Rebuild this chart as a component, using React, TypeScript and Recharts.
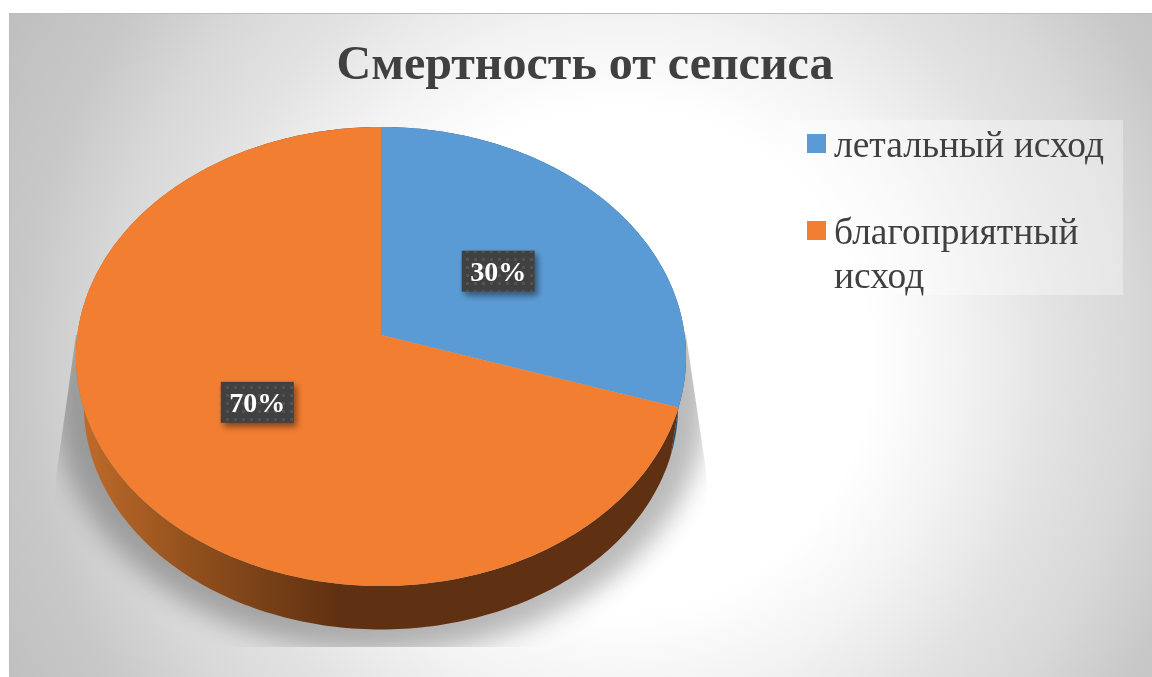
import React from "react";
import { PieChart, Pie, Cell, Legend } from "recharts";

const titleText = "Смертность от сепсиса";
const categories = ["летальный исход", "благоприятный исход"];
const values = [30, 70];
const colors = ["#5b9bd5", "#f27e31"];
const sideColors = ["#1f4e79", "url(#sideGrad)"];

const data = categories.map((name, i) => ({ name, value: values[i] }));

const SERIF = "'Liberation Serif', serif";
const W = 1152;
const H = 677;
const CX = 381;
const CY = 335;
// projective view of the pie disc
const C = -43 / 459;
const A = 227.5;
const K = 303.7;
const DROP = 50;
const SHRINK = 0.974;

const project = (deg: number, f = 1, bottom = false) => {
  const a = (deg * Math.PI) / 180;
  const x = f * Math.cos(a);
  const y = -f * Math.sin(a);
  const d = 1 + C * y;
  const s = bottom ? SHRINK : 1;
  return [CX + (s * K * x) / d, CY + (bottom ? DROP : 0) + (s * A * y) / d];
};

const arcPoints = (start: number, end: number, bottom = false) => {
  const n = Math.max(2, Math.ceil(Math.abs(end - start)));
  const pts: number[][] = [];
  for (let i = 0; i <= n; i++) pts.push(project(start + ((end - start) * i) / n, 1, bottom));
  return pts;
};

const toPath = (pts: number[][]) =>
  pts.map((p, i) => `${i ? "L" : "M"}${p[0].toFixed(2)} ${p[1].toFixed(2)}`).join(" ") + " Z";

const TopSlice = (props: any) => {
  const pts = [[CX, CY], ...arcPoints(props.startAngle, props.endAngle)];
  return <path d={toPath(pts)} fill={props.fill} />;
};

const SideSlice = (props: any) => {
  const top = arcPoints(props.startAngle, props.endAngle);
  const bot = arcPoints(props.startAngle, props.endAngle, true).reverse();
  return <path d={toPath([...top, ...bot])} fill={props.fill} />;
};

const renderLabel = (props: any) => {
  const [x, y] = project(props.midAngle, 0.49);
  const w = 73;
  const h = 41;
  return (
    <g>
      <rect x={x - w / 2} y={y - h / 2} width={w} height={h} fill="#404040" filter="url(#labelShadow)" />
      <rect x={x - w / 2} y={y - h / 2} width={w} height={h} fill="url(#dots)" />
      <text
        x={x}
        y={y + 9.5}
        textAnchor="middle"
        fontFamily={SERIF}
        fontWeight="bold"
        fontSize={28}
        fill="#fff"
      >
        {`${Math.round(props.percent * 100)}%`}
      </text>
    </g>
  );
};

const LegendBox = (props: any) => {
  const payload: any[] = props.payload || [];
  const items = categories.filter((name) => payload.some((p) => p.value === name));
  return (
    <div
      style={{
        position: "relative",
        width: 339,
        height: 175,
        background: "rgba(255,255,255,0.35)",
        fontFamily: SERIF,
        fontSize: 37.5,
        lineHeight: "44px",
        color: "#404040",
      }}
    >
      {items.map((name, i) => (
        <div key={name}>
          <div
            style={{
              position: "absolute",
              left: 23,
              top: i === 0 ? 14 : 101,
              width: 19,
              height: 19,
              background: colors[i],
            }}
          />
          <div
            style={{
              position: "absolute",
              left: 50,
              top: i === 0 ? 3 : 90,
              width: 285,
            }}
          >
            {name}
          </div>
        </div>
      ))}
    </div>
  );
};

export default function App() {
  return (
    <div style={{ position: "fixed", left: 0, top: 0, width: W, height: H, overflow: "hidden" }}>
      <div
        style={{
          position: "absolute",
          left: 9,
          top: 13,
          right: 0,
          bottom: 0,
          borderLeft: "1px solid #bdbdbd",
          borderTop: "1px solid #bdbdbd",
          background:
            "radial-gradient(circle 700px at 610px 346px, #ffffff 0, #ffffff 250px, #f4f4f4 333px, #eaeaea 392px, #e2e2e2 437px, #d8d8d8 515px, #c8c8c8 600px, #bfbfbf 700px)",
        }}
      />
      <div
        style={{
          position: "absolute",
          left: 0,
          width: 1170,
          top: 33,
          textAlign: "center",
          fontFamily: SERIF,
          fontWeight: "bold",
          fontSize: 48,
          lineHeight: "60px",
          color: "#404040",
        }}
      >
        {titleText}
      </div>
      <div style={{ position: "absolute", left: 0, top: 0 }}>
        <PieChart width={W} height={H} margin={{ top: 0, right: 0, bottom: 0, left: 0 }}>
          <defs>
            <linearGradient id="sideGrad" gradientUnits="userSpaceOnUse" x1={85} x2={340} y1={0} y2={0}>
              <stop offset="0%" stopColor="#bd6a2a" />
              <stop offset="45%" stopColor="#8f4e1c" />
              <stop offset="100%" stopColor="#5f3011" />
            </linearGradient>
            <pattern id="dots" width={8} height={8} patternUnits="userSpaceOnUse">
              <rect x={2} y={2} width={3} height={3} fill="#5a5a5a" opacity={0.7} />
            </pattern>
            <filter id="labelShadow" x="-30%" y="-30%" width="170%" height="180%">
              <feDropShadow dx={3} dy={4} stdDeviation={3} floodColor="#000" floodOpacity={0.45} />
            </filter>
            <filter id="groundBlur" x="-20%" y="-20%" width="140%" height="140%">
              <feGaussianBlur stdDeviation={13} />
            </filter>
            <clipPath id="groundClip">
              <polygon points="76,335 686,335 706,470 722,647 40,647 57,470" />
            </clipPath>
          </defs>
          <g clipPath="url(#groundClip)">
            <ellipse cx={381} cy={400} rx={326} ry={252} fill="#000" opacity={0.27} filter="url(#groundBlur)" />
          </g>
          <Pie
            data={data}
            dataKey="value"
            cx={CX}
            cy={CY}
            outerRadius={300}
            startAngle={90}
            endAngle={-270}
            isAnimationActive={false}
            stroke="none"
            label={false}
            labelLine={false}
            legendType="none"
            shape={SideSlice}
          >
            {data.map((d, i) => (
              <Cell key={d.name} fill={sideColors[i]} />
            ))}
          </Pie>
          <Pie
            data={data}
            dataKey="value"
            cx={CX}
            cy={CY}
            outerRadius={300}
            startAngle={90}
            endAngle={-270}
            isAnimationActive={false}
            stroke="none"
            labelLine={false}
            label={renderLabel}
            shape={TopSlice}
          >
            {data.map((d, i) => (
              <Cell key={d.name} fill={colors[i]} />
            ))}
          </Pie>
          <Legend
            content={LegendBox}
            wrapperStyle={{ position: "absolute", left: 784, top: 120, width: 339, height: 175, bottom: "auto", right: "auto" }}
          />
        </PieChart>
      </div>
    </div>
  );
}
